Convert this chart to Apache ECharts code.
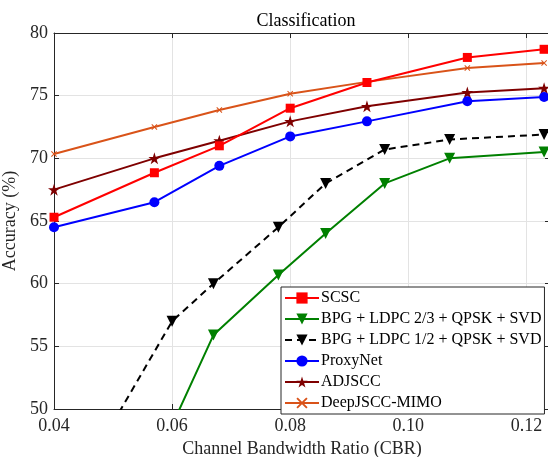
<!DOCTYPE html>
<html>
<head>
<meta charset="utf-8">
<script src="https://cdn.jsdelivr.net/npm/echarts@6/dist/echarts.min.js"></script>
<style>
  html, body { margin: 0; padding: 0; background: #fff; }
  #main { width: 548px; height: 457px; }
</style>
</head>
<body>
<div id="main"></div>
<script>
// CBR values
const cbr = [0.04, 0.057, 0.068, 0.08, 0.093, 0.11, 0.123];
const bpgCbr = [0.05, 0.06, 0.067, 0.078, 0.086, 0.096, 0.107, 0.123];

const scsc = [65.3, 68.85, 71.0, 74.0, 76.05, 78.05, 78.7];
const proxyNet = [64.5, 66.5, 69.4, 71.75, 72.95, 74.55, 74.9];
const adjscc = [67.5, 70.0, 71.4, 72.95, 74.15, 75.25, 75.6];
const deepJsccMimo = [70.35, 72.5, 73.85, 75.15, 76.1, 77.2, 77.6];
const bpgLdpc23 = ['-', 48.7, 55.9, 60.7, 64.0, 68.0, 70.0, 70.5];
const bpgLdpc12 = [48.9, 57.0, 60.0, 64.5, 68.0, 70.7, 71.5, 71.9];

const xTicks = { min: 0.04, max: 0.124, interval: 0.02 };
const yTicks = { min: 50, max: 80, interval: 5 };

const font = 'Liberation Serif';
const axisColor = '#262626';

const star = 'path://M50,0 L61.2,34.5 L97.6,34.5 L68.2,55.9 L79.4,90.5 L50,69.1 L20.6,90.5 L31.8,55.9 L2.4,34.5 L38.8,34.5 Z';
const cross = 'path://M12,0 L50,38 L88,0 L100,12 L62,50 L100,88 L88,100 L50,62 L12,100 L0,88 L38,50 L0,12 Z';

function pairs(xs, ys) {
  return xs.map((x, i) => [x, ys[i]]);
}

function makeSeries(name, xs, ys, color, symbol, size, extra) {
  return Object.assign({
    name: name,
    type: 'line',
    data: pairs(xs, ys),
    symbol: symbol,
    symbolSize: size,
    clip: true,
    lineStyle: { color: color, width: 2 },
    itemStyle: { color: color },
    emphasis: { disabled: true }
  }, extra || {});
}

const baseX = {
  type: 'value',
  min: xTicks.min,
  max: xTicks.max,
  interval: xTicks.interval,
  axisLine: { show: true, lineStyle: { color: axisColor, width: 1 } },
  axisTick: { show: true, inside: true, length: 5, lineStyle: { color: axisColor } }
};
const baseY = {
  type: 'value',
  min: yTicks.min,
  max: yTicks.max,
  interval: yTicks.interval,
  axisLine: { show: true, lineStyle: { color: axisColor, width: 1 } },
  axisTick: { show: true, inside: true, length: 5, lineStyle: { color: axisColor } }
};

const option = {
  backgroundColor: '#fff',
  animation: false,
  title: {
    text: 'Classification',
    left: 301,
    top: 7,
    textAlign: 'center',
    textStyle: { fontFamily: font, fontSize: 18, fontWeight: 'normal', color: '#000' }
  },
  grid: { left: 54, top: 33, right: -2, bottom: 48, containLabel: false, outerBoundsMode: 'none' },
  legend: {
    left: 281,
    top: 287,
    orient: 'vertical',
    itemWidth: 34,
    itemHeight: 14,
    itemGap: 5,
    padding: [3, 3, 3, 3],
    backgroundColor: '#fff',
    borderColor: '#262626',
    borderWidth: 1,
    borderRadius: 0,
    textStyle: { fontFamily: font, fontSize: 16, lineHeight: 14, color: '#000', padding: [0, 0, 0, -3] },
    data: ['SCSC', 'BPG + LDPC 2/3 + QPSK + SVD', 'BPG + LDPC 1/2 + QPSK + SVD',
           'ProxyNet', 'ADJSCC', 'DeepJSCC-MIMO']
  },
  xAxis: [
    Object.assign({}, baseX, {
      position: 'bottom',
      name: 'Channel Bandwidth Ratio (CBR)',
      nameLocation: 'middle',
      nameGap: 31,
      nameTextStyle: { fontFamily: font, fontSize: 18, color: axisColor },
      axisLabel: {
        fontFamily: font, fontSize: 18, color: axisColor, margin: 8,
        showMaxLabel: false,
        formatter: v => v.toFixed(2)
      },
      splitLine: { show: true, lineStyle: { color: '#e3e3e3', width: 1 } }
    }),
    Object.assign({}, baseX, {
      position: 'top',
      axisLabel: { show: false },
      splitLine: { show: false }
    })
  ],
  yAxis: [
    Object.assign({}, baseY, {
      position: 'left',
      name: 'Accuracy (%)',
      nameLocation: 'middle',
      nameGap: 23,
      nameTextStyle: { fontFamily: font, fontSize: 18, color: axisColor },
      axisLabel: { fontFamily: font, fontSize: 18, color: axisColor, margin: 6 },
      splitLine: { show: true, lineStyle: { color: '#e3e3e3', width: 1 } }
    }),
    Object.assign({}, baseY, {
      position: 'right',
      axisLabel: { show: false },
      splitLine: { show: false }
    })
  ],
  series: [
    makeSeries('DeepJSCC-MIMO', cbr, deepJsccMimo, '#d95319', cross, 6),
    makeSeries('ADJSCC', cbr, adjscc, '#7f0000', star, 12),
    makeSeries('ProxyNet', cbr, proxyNet, '#0000ff', 'circle', 10),
    makeSeries('BPG + LDPC 2/3 + QPSK + SVD', bpgCbr, bpgLdpc23, '#008000', 'triangle', 11,
      { symbolRotate: 180 }),
    makeSeries('BPG + LDPC 1/2 + QPSK + SVD', bpgCbr, bpgLdpc12, '#000000', 'triangle', 11,
      { symbolRotate: 180, lineStyle: { color: '#000', width: 2, type: [7, 5] } }),
    makeSeries('SCSC', cbr, scsc, '#ff0000', 'rect', 9)
  ]
};

const chart = echarts.init(document.getElementById('main'), null, { renderer: 'canvas' });
chart.setOption(option);
</script>
</body>
</html>
